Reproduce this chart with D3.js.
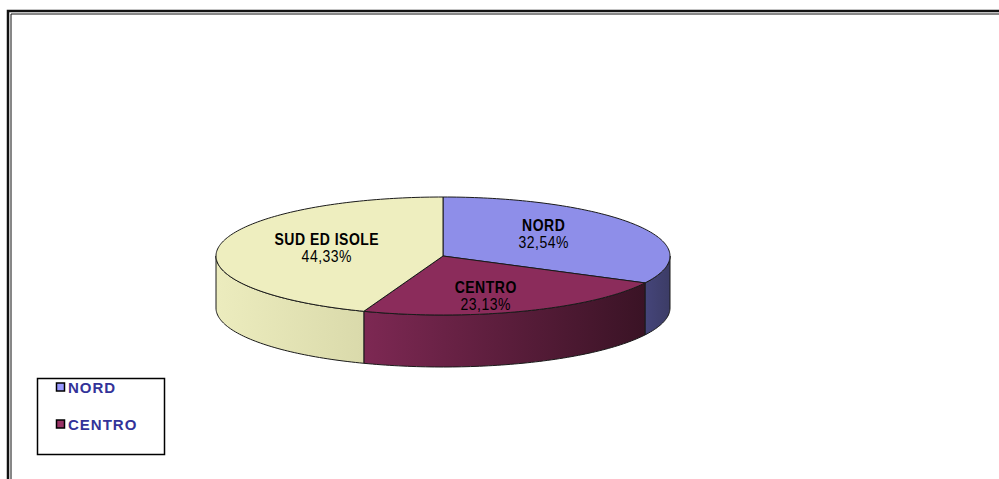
<!DOCTYPE html>
<html>
<head>
<meta charset="utf-8">
<script src="https://cdn.jsdelivr.net/npm/d3@7"></script>
<style>
  body { margin: 0; background: #fff; }
  svg { display: block; }
</style>
</head>
<body>
<div class="chart"></div>
<script>
// data
var regions = ["NORD", "CENTRO", "SUD ED ISOLE"];
var shares = [32.54, 23.13, 44.33];
var legendItems = ["NORD", "CENTRO"];

var topColors = ["#8e8ee9", "#8b2c5b", "#eeeebf"];
var swatchColors = ["#9999ff", "#993366", "#ffffcc"];
var sideLeft = ["#45457a", "#7d2853", "#ececbe"];
var sideRight = ["#3c3c66", "#3a1325", "#dadaab"];

var svgWidth = 999;
var svgHeight = 479;

var svg = d3.select(".chart")
  .append("svg")
  .attr("width", svgWidth)
  .attr("height", svgHeight);

// frame (double line, left and top only)
svg.append("path")
  .attr("d", "M8,479V11H999")
  .attr("fill", "none")
  .attr("stroke", "#111")
  .attr("stroke-width", 2.5);
svg.append("path")
  .attr("d", "M11,479V14H999")
  .attr("fill", "none")
  .attr("stroke", "#111")
  .attr("stroke-width", 1);

// pie geometry (tilted ellipse)
var cx = 443, cy = 256, rx = 227, ry = 59, depth = 52;

var pie = d3.pie().sort(null).value(d => d);
var arcs = pie(shares);

var color = d3.scaleOrdinal().domain(regions).range(topColors);

function pt(a, dy) {
  return [cx + rx * Math.sin(a), cy - ry * Math.cos(a) + (dy || 0)];
}

function arcPoints(a0, a1, dy) {
  var n = Math.max(2, Math.ceil(Math.abs(a1 - a0) / 0.02));
  return d3.range(n + 1).map(i => pt(a0 + (a1 - a0) * i / n, dy));
}

var defs = svg.append("defs");
regions.forEach(function(r, i) {
  var g = defs.append("linearGradient")
    .attr("id", "side" + i)
    .attr("x1", "0").attr("x2", "1").attr("y1", "0").attr("y2", "0");
  g.append("stop").attr("offset", "0%").attr("stop-color", sideLeft[i]);
  g.append("stop").attr("offset", "100%").attr("stop-color", sideRight[i]);
});

var line = d3.line();
var pieGroup = svg.append("g");

// side walls: only the front half (90deg .. 270deg) shows
arcs.forEach(function(d, i) {
  var a0 = Math.max(d.startAngle, Math.PI / 2);
  var a1 = Math.min(d.endAngle, Math.PI * 1.5);
  if (a1 <= a0) return;
  var top = arcPoints(a0, a1, 0);
  var bottom = arcPoints(a1, a0, depth);
  pieGroup.append("path")
    .attr("d", line(top.concat(bottom)) + "Z")
    .attr("fill", "url(#side" + i + ")")
    .attr("stroke", "#1a1a1a")
    .attr("stroke-width", 1)
    .attr("stroke-linejoin", "round");
});

// top faces
arcs.forEach(function(d, i) {
  var pts = [[cx, cy]].concat(arcPoints(d.startAngle, d.endAngle, 0));
  pieGroup.append("path")
    .attr("d", line(pts) + "Z")
    .attr("fill", color(regions[i]))
    .attr("stroke", "#1a1a1a")
    .attr("stroke-width", 1)
    .attr("stroke-linejoin", "round");
});

// labels
var fmt = v => d3.format(".2f")(v).replace(".", ",") + "%";
arcs.forEach(function(d, i) {
  var mid = (d.startAngle + d.endAngle) / 2;
  var lx = cx + 0.52 * rx * Math.sin(mid);
  var ly = cy - 0.72 * ry * Math.cos(mid);
  var g = pieGroup.append("g")
    .attr("font-family", "Liberation Sans, Arial, sans-serif")
    .attr("font-size", 14)
    .attr("letter-spacing", 0.5)
    .attr("text-anchor", "middle")
    .attr("fill", "#000");
  g.append("text")
    .attr("transform", `translate(${lx}, ${ly - 3}) scale(1, 1.15)`)
    .attr("font-weight", "bold")
    .text(regions[i]);
  g.append("text")
    .attr("transform", `translate(${lx}, ${ly + 14}) scale(1, 1.15)`)
    .text(fmt(d.data));
});

// legend (clipped: only two entries visible)
var legend = svg.append("g");
legend.append("rect")
  .attr("x", 37.5).attr("y", 378.5)
  .attr("width", 127).attr("height", 76)
  .attr("fill", "#fff")
  .attr("stroke", "#000")
  .attr("stroke-width", 1.5);

var ly0 = d3.scalePoint().domain(legendItems).range([387, 424]);
legendItems.forEach(function(name, i) {
  legend.append("rect")
    .attr("x", 56.5).attr("y", ly0(name) - 4)
    .attr("width", 8).attr("height", 8)
    .attr("fill", swatchColors[regions.indexOf(name)])
    .attr("stroke", "#000")
    .attr("stroke-width", 1.5);
  legend.append("text")
    .attr("x", 68)
    .attr("y", ly0(name) + 6)
    .attr("font-family", "Liberation Sans, Arial, sans-serif")
    .attr("font-size", 15)
    .attr("font-weight", "bold")
    .attr("letter-spacing", 1)
    .attr("fill", "#333399")
    .text(name);
});
</script>
</body>
</html>
